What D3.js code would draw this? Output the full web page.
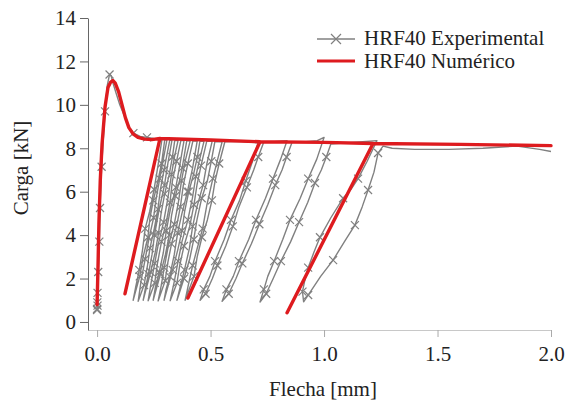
<!DOCTYPE html>
<html><head><meta charset="utf-8">
<script src="https://cdn.jsdelivr.net/npm/d3@7"></script>
<style>body{margin:0;background:#fff}svg{display:block}
svg text{font-family:"Liberation Serif","Tinos","Times New Roman","DejaVu Serif",serif !important;}</style>
</head><body>
<svg id="c" width="566" height="401"></svg>
<script>
// ---- data ----
const xTicks = [0, 0.5, 1.0, 1.5, 2.0];
const yTicks = [0, 2, 4, 6, 8, 10, 12, 14];
const seriesNames = ["HRF40 Experimental", "HRF40 Numérico"];
const axisTitles = {x: "Flecha [mm]", y: "Carga [kN]"};

// experimental: initial loading & softening [x, y, marker]
const expInitial = [[0,0.55,1],[0.001,0.9,1],[0,0.6,1],[0.002,0.75,1],[0.002,1.34,1],[0.005,2.3,1],
  [0.01,3.7,1],[0.013,5.25,1],[0.02,7.15,1],[0.035,9.7,1],[0.045,10.9,0],[0.055,11.4,1],[0.062,11.35,0],
  [0.07,11.0,0],[0.085,10.5,0],[0.1,10.0,0],[0.12,9.5,0],[0.14,9.0,0],[0.16,8.7,1],[0.19,8.55,0],
  [0.22,8.5,1],[0.25,8.45,0]];
// experimental unloading/reloading cycles ([x, y] marked, [x, y, 0] unmarked)
const expCycles = [
 [[.286,8.42],[.270,7.3,0],[.251,6.1],[.232,5.1,0],[.212,4.3],[.200,3.3,0],[.186,2.4],[.170,1.6,0],[.159,1.0],
  [.188,2.1],[.203,3.0,0],[.224,3.9],[.233,4.8,0],[.248,5.6],[.268,6.5,0],[.284,7.3],[.298,8.38]],
 [[.308,8.4],[.292,7.5,0],[.276,6.6],[.259,5.6,0],[.249,4.8],[.228,3.8,0],[.212,2.9],[.194,1.9,0],[.181,0.95],
  [.207,1.7],[.222,2.6,0],[.233,3.4],[.252,4.3,0],[.268,5.2],[.279,6.1,0],[.295,7.0],[.320,8.36]],
 [[.330,8.38],[.312,7.3,0],[.297,6.3],[.272,5.1,0],[.253,4.0],[.242,3.1,0],[.226,2.2],[.212,1.5,0],[.203,1.0],
  [.236,2.3],[.256,3.2,0],[.271,4.1],[.282,5.0,0],[.298,5.9],[.318,6.8,0],[.332,7.6],[.342,8.35]],
 [[.357,8.36],[.341,7.6,0],[.328,6.8],[.312,5.7,0],[.293,4.6],[.270,3.6,0],[.254,2.7],[.238,1.8,0],[.225,0.98],
  [.254,1.8],[.266,2.7,0],[.284,3.7],[.305,4.6,0],[.321,5.5],[.332,6.5,0],[.350,7.4],[.369,8.35]],
 [[.383,8.35],[.364,7.2,0],[.347,6.2],[.323,5.2,0],[.305,4.2],[.292,3.2,0],[.274,2.3],[.257,1.6,0],[.247,1.0],
  [.279,2.2],[.301,3.1,0],[.318,4.0],[.328,4.9,0],[.345,5.8],[.363,6.5,0],[.375,7.1],[.395,8.34]],
 [[.410,8.34],[.388,7.4,0],[.372,6.5],[.358,5.5,0],[.340,4.5],[.314,3.5,0],[.296,2.5],[.283,1.7,0],[.269,0.97],
  [.300,1.9],[.311,2.7,0],[.328,3.6],[.350,4.4,0],[.367,5.3],[.380,6.3,0],[.400,7.3],[.422,8.33]],
 [[.441,8.33],[.421,7.1,0],[.398,6.0],[.374,5.0,0],[.355,4.1],[.340,3.1,0],[.320,2.1],[.304,1.5,0],[.295,1.0],
  [.333,2.4],[.355,3.3,0],[.374,4.2],[.386,5.1,0],[.404,6.0],[.425,6.8,0],[.442,7.6],[.453,8.33]],
 [[.471,8.32],[.452,7.5,0],[.435,6.7],[.420,5.7,0],[.400,4.7],[.374,3.7,0],[.357,2.8],[.341,1.9,0],[.322,0.98],
  [.352,1.8],[.364,2.6,0],[.383,3.5],[.408,4.4,0],[.427,5.4],[.440,6.3,0],[.458,7.2],[.483,8.32]],
 [[.507,8.32],[.484,7.3,0],[.467,6.3],[.440,5.3,0],[.421,4.4],[.407,3.4,0],[.385,2.4],[.366,1.6,0],[.352,1.0],
  [.383,2.0],[.408,2.9,0],[.426,3.8],[.440,4.7,0],[.461,5.7],[.486,6.5,0],[.503,7.4],[.519,8.31]],
 [[.551,8.3],[.529,7.4,0],[.510,6.6],[.484,5.4,0],[.465,4.3],[.444,3.5,0],[.421,2.6],[.402,1.7,0],[.388,1.0],
  [.427,2.1],[.441,3.0,0],[.462,3.9],[.486,4.7,0],[.506,5.6],[.520,6.5,0],[.538,7.3],[.563,8.3],[.62,8.32,0],[.68,8.28,0]],
 [[.709,8.25],[.685,7.4,0],[.655,6.5],[.628,5.6,0],[.590,4.7],[.560,3.8,0],[.520,2.8],[.497,2.1,0],[.470,1.5],[.454,1.0],
  [.478,1.3],[.508,2.0,0],[.530,2.6],[.567,3.5,0],[.598,4.4],[.625,5.3,0],[.660,6.2],[.690,7.0,0],[.710,7.6],[.735,8.3],[.78,8.3,0]],
 [[.837,8.35],[.809,7.5,0],[.775,6.6],[.742,5.7,0],[.700,4.7],[.668,3.8,0],[.625,2.8],[.600,2.1,0],[.570,1.5],[.551,0.95],
  [.580,1.3],[.612,2.0,0],[.640,2.7],[.680,3.6,0],[.715,4.5],[.752,5.4,0],[.785,6.3],[.815,7.0,0],[.835,7.6],[.860,8.3],[.92,8.3,0],[.97,8.35,0]],
 [[1.0,8.5],[.968,7.5,0],[.93,6.6],[.895,5.7,0],[.85,4.7],[.818,3.8,0],[.78,2.8],[.752,2.1,0],[.735,1.5],[.718,0.92],
  [.745,1.3],[.776,2.0,0],[.81,2.8],[.853,3.7,0],[.89,4.6],[.928,5.5,0],[.96,6.4],[.988,7.0,0],[1.01,7.6],[1.03,8.2],[1.1,8.25,0],[1.17,8.3,0]],
 [[1.233,8.35],[1.19,7.4,0],[1.15,6.6],[1.118,6.1,0],[1.084,5.7],[1.03,4.8,0],[.982,3.9],[.955,3.2,0],[.93,2.5],[.915,1.9,0],[.905,1.4],[.910,0.93],
  [.93,1.24],[.985,2.1,0],[1.04,2.85],[1.09,3.7,0],[1.136,4.46],[1.168,5.3,0],[1.194,6.08],[1.22,6.9,0],[1.238,7.78],[1.26,8.1]]
];
const expTail = [[1.30,8.0],[1.4,7.95],[1.55,7.95],[1.7,8.0],[1.85,8.1],[1.95,7.95],[2.0,7.85]];

// numerical
const numX = [0.0,0.004,0.008,0.014,0.022,0.035,0.048,0.06,0.07,0.08,0.095,0.11,0.125,0.14,0.16,0.18,0.21,0.24,0.277,
  0.123,0.277,0.5,0.718,0.40,0.718,1.0,1.216,0.837,1.216,1.6,2.0];
const numY = [0.8,2.5,4.5,6.5,8.2,9.9,10.8,11.05,11.12,11.0,10.6,10.0,9.4,8.95,8.65,8.5,8.42,8.4,8.45,
  1.3,8.45,8.38,8.3,1.1,8.3,8.27,8.22,0.42,8.22,8.18,8.12];

// ---- drawing ----
const svg = d3.select("#c");
const x = d3.scaleLinear().domain([-0.04, 2.0]).range([88, 551]);
const y = d3.scaleLinear().domain([-0.37, 14]).range([330, 18]);
const grayC = "#808080", redC = "#de1b1f";

// axes
const gx = svg.append("g").attr("transform", "translate(0,330)")
  .call(d3.axisBottom(x).tickValues(xTicks).tickFormat(d3.format(".1f")).tickSize(7).tickSizeOuter(0).tickPadding(9));
gx.attr("font-family", null);
gx.select(".domain").attr("stroke", "#c8c8c8");
gx.selectAll(".tick line").attr("stroke", "#aaa");
gx.selectAll("text").attr("font-size", 21).attr("fill", "#222");

const gy = svg.append("g").attr("transform", "translate(88,0)")
  .call(d3.axisLeft(y).tickValues(yTicks).tickSize(8).tickSizeOuter(0).tickPadding(4));
gy.attr("font-family", null);
gy.select(".domain").attr("stroke", "#666");
gy.selectAll(".tick line").attr("stroke", "#666");
gy.selectAll("text").attr("font-size", 21).attr("fill", "#222");

svg.append("text").attr("x", 323).attr("y", 396).attr("text-anchor", "middle")
  .attr("font-size", 21).attr("fill", "#222").text(axisTitles.x);
svg.append("text").attr("transform", "translate(28,168) rotate(-90)").attr("text-anchor", "middle")
  .attr("font-size", 21).attr("fill", "#222").text(axisTitles.y);

// experimental path
const expPts = [].concat(expInitial.map(p => [p[0], p[1]]), ...expCycles.map(c => c.map(p => [p[0], p[1]])), expTail);
const line = d3.line().x(d => x(d[0])).y(d => y(d[1]));
svg.append("path").datum(expPts).attr("d", line).attr("fill", "none")
  .attr("stroke", grayC).attr("stroke-width", 1.4).attr("stroke-linejoin", "round");

// markers
const markPts = expInitial.filter(p => p[2] === 1)
  .concat(...expCycles.map(c => c.filter(p => p[2] !== 0 && p[1] > 1.2 && p[1] < 8.0)));
const cross = (g, cx, cy, r) => {
  g.append("path").attr("d", `M${cx-r},${cy-r}L${cx+r},${cy+r}M${cx-r},${cy+r}L${cx+r},${cy-r}`)
    .attr("stroke", grayC).attr("stroke-width", 1.2).attr("fill", "none");
};
const mg = svg.append("g");
markPts.forEach(p => cross(mg, x(p[0]), y(p[1]), 4));

// numerical
const numPts = numX.map((v, i) => [v, numY[i]]);
svg.append("path").datum(numPts).attr("d", line).attr("fill", "none")
  .attr("stroke", redC).attr("stroke-width", 3.4).attr("stroke-linejoin", "round").attr("stroke-linecap", "round");

// legend
const lg = svg.append("g");
lg.append("line").attr("x1", 317).attr("x2", 355).attr("y1", 39).attr("y2", 39).attr("stroke", grayC).attr("stroke-width", 1.3);
cross(lg, 336, 39, 5);
lg.append("line").attr("x1", 317).attr("x2", 355).attr("y1", 61).attr("y2", 61).attr("stroke", redC).attr("stroke-width", 3);
lg.append("text").attr("x", 364).attr("y", 45).attr("font-size", 21).attr("fill", "#222").text(seriesNames[0]);
lg.append("text").attr("x", 364).attr("y", 68).attr("font-size", 21).attr("fill", "#222").text(seriesNames[1]);
</script>
</body></html>
